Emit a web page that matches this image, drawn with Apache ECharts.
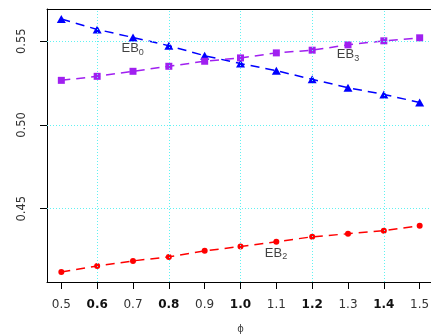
<!DOCTYPE html>
<html>
<head>
<meta charset="utf-8">
<style>
  html, body { margin: 0; padding: 0; background: #fff; }
  #chart { width: 431px; height: 335px; }
</style>
<script src="https://cdn.jsdelivr.net/npm/echarts@6/dist/echarts.min.js"></script>
</head>
<body>
<div id="chart"></div>
<script>
// phi values along the x axis
const phi = [0.5, 0.6, 0.7, 0.8, 0.9, 1.0, 1.1, 1.2, 1.3, 1.4, 1.5];

// estimator values per phi
const eb0 = [0.5632, 0.5570, 0.5522, 0.5473, 0.5413, 0.5366, 0.5324, 0.5272, 0.5222, 0.5182, 0.5134];
const eb3 = [0.5266, 0.5290, 0.5320, 0.5350, 0.5380, 0.5400, 0.5430, 0.5446, 0.5478, 0.5502, 0.5520];
const eb2 = [0.4122, 0.4158, 0.4188, 0.4212, 0.4248, 0.4274, 0.4302, 0.4332, 0.4350, 0.4368, 0.4398];

// tick labels
const xTicks = [0.5, 0.6, 0.7, 0.8, 0.9, 1.0, 1.1, 1.2, 1.3, 1.4, 1.5];
const xBoldTicks = [0.6, 0.8, 1.0, 1.2, 1.4];
const yTicks = [0.45, 0.50, 0.55];

// dotted reference grid
const xGrid = [0.6, 0.8, 1.0, 1.2, 1.4];
const yGrid = [0.45, 0.50, 0.55];

// series name annotations: [x, y, name, subscript]
const annotations = [
  [0.699, 0.5454, 'EB', '0'],
  [1.300, 0.5419, 'EB', '3'],
  [1.099, 0.4234, 'EB', '2']
];

const pair = (ys) => phi.map((x, i) => [x, ys[i]]);
const isBold = (v) => xBoldTicks.some(b => Math.abs(b - v) < 1e-9);

const chart = echarts.init(document.getElementById('chart'), null, { renderer: 'canvas' });

const lineStyleFor = (color) => ({ color: color, width: 1.5, type: [9, 6] });

chart.setOption({
  animation: false,
  backgroundColor: '#ffffff',
  grid: {
    left: 47, top: 9, width: 387, height: 273,
    outerBoundsMode: 'none', containLabel: false, show: false
  },
  xAxis: [
    {
      type: 'value', min: 0.46, max: 1.54,
      name: 'ϕ', nameLocation: 'middle', nameGap: 42,
      nameTextStyle: { fontFamily: 'DejaVu Sans', fontSize: 10, color: '#444' },
      axisLine: { show: true, onZero: false, lineStyle: { color: '#000', width: 1 } },
      axisTick: { show: true, inside: false, length: 7, customValues: xTicks, lineStyle: { color: '#000' } },
      axisLabel: {
        customValues: xTicks, margin: 17,
        fontFamily: 'DejaVu Sans', fontSize: 12, color: '#333',
        formatter: (v) => isBold(v) ? '{b|' + v.toFixed(1) + '}' : v.toFixed(1),
        rich: { b: { fontFamily: 'DejaVu Sans', fontSize: 12, fontWeight: 'bold', color: '#111' } }
      },
      splitLine: { show: false }
    },
    {
      // top frame edge of the plot box
      type: 'value', position: 'top', min: 0.46, max: 1.54,
      axisLine: { show: true, onZero: false, lineStyle: { color: '#000', width: 1 } },
      axisTick: { show: false }, axisLabel: { show: false }, splitLine: { show: false }
    }
  ],
  yAxis: {
    type: 'value', min: 0.4062, max: 0.5692,
    axisLine: { show: true, onZero: false, lineStyle: { color: '#000', width: 1 } },
    axisTick: { show: true, inside: false, length: 7, customValues: yTicks, lineStyle: { color: '#000' } },
    axisLabel: {
      customValues: yTicks, rotate: 90, margin: 19,
      fontFamily: 'DejaVu Sans', fontSize: 11.5, color: '#333',
      formatter: (v) => v.toFixed(2)
    },
    splitLine: { show: false }
  },
  series: [
    {
      type: 'line', data: [], silent: true, z: 1,
      markLine: {
        silent: true, symbol: 'none', animation: false,
        label: { show: false },
        lineStyle: { color: '#60f2f2', width: 1, type: [1, 2] },
        data: xGrid.map(v => ({ xAxis: v })).concat(yGrid.map(v => ({ yAxis: v })))
      }
    },
    {
      name: 'EB0', type: 'line', data: pair(eb0), z: 3,
      symbol: 'triangle', symbolSize: [9, 8],
      itemStyle: { color: '#0000ff' }, lineStyle: lineStyleFor('#0000ff')
    },
    {
      name: 'EB3', type: 'line', data: pair(eb3), z: 3,
      symbol: 'rect', symbolSize: 7,
      itemStyle: { color: '#a020f0' }, lineStyle: lineStyleFor('#a020f0')
    },
    {
      name: 'EB2', type: 'line', data: pair(eb2), z: 3,
      symbol: 'circle', symbolSize: 6,
      itemStyle: { color: '#ff0000' }, lineStyle: lineStyleFor('#ff0000')
    },
    {
      type: 'scatter', silent: true, z: 4,
      symbolSize: 0,
      data: annotations.map(a => ({ value: [a[0], a[1]], main: a[2], sub: a[3] })),
      label: {
        show: true, position: 'inside',
        formatter: (p) => '{m|' + p.data.main + '}{s|' + p.data.sub + '}',
        rich: {
          m: { fontFamily: 'Liberation Sans', fontSize: 13, color: '#111', lineHeight: 16 },
          s: { fontFamily: 'Liberation Sans', fontSize: 9, color: '#111', lineHeight: 16, padding: [7, 0, 0, 0] }
        }
      }
    }
  ]
});
</script>
</body>
</html>
